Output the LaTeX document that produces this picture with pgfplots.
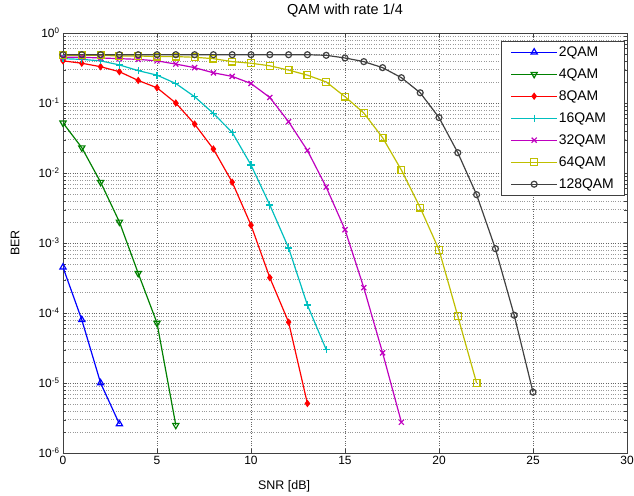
\documentclass[border=0pt]{standalone}
\usepackage{fontspec}
\setmainfont{Liberation Sans}
\usepackage{pgfplots}
\pgfplotsset{compat=1.18}

\definecolor{mblue}{rgb}{0,0,1}
\definecolor{mgreen}{rgb}{0,0.5,0}
\definecolor{mred}{rgb}{1,0,0}
\definecolor{mcyan}{rgb}{0,0.75,0.75}
\definecolor{mmagenta}{rgb}{0.75,0,0.75}
\definecolor{myellow}{rgb}{0.75,0.75,0}
\definecolor{mgray}{rgb}{0.25,0.25,0.25}

\begin{document}
\begin{tikzpicture}
\begin{axis}[
  scale only axis, width=564bp, height=420bp,
  xmin=0, xmax=30, ymode=log, ymin=1e-6, ymax=1,
  xtick={0,5,...,30},
  ytick={1e-6,1e-5,1e-4,1e-3,1e-2,1e-1,1},
  yticklabels={10\textsuperscript{-6},10\textsuperscript{-5},10\textsuperscript{-4},10\textsuperscript{-3},10\textsuperscript{-2},10\textsuperscript{-1},10\textsuperscript{0}},
  /pgf/number format/assume math mode=true,
  tick label style={font=\fontsize{12}{14}\selectfont},
  label style={font=\fontsize{12.5}{15}\selectfont},
  tick align=inside,
  grid=both,
  major grid style={dotted, black!60, line width=0.5pt},
  minor grid style={dotted, black!40, line width=0.5pt},
  axis line style={black!75, line width=0.6pt},
  tick style={black!75},
  title={QAM with rate 1/4},
  title style={font=\fontsize{14.5}{17}\selectfont, at={(0.5,1)}, anchor=base, yshift=13bp},
  xlabel={SNR [dB]},
  xlabel style={at={(axis description cs:0.392,0)}, anchor=base, yshift=-36bp},
  ylabel={BER},
  ylabel style={at={(axis description cs:-0.085,0.5)}, anchor=center},
  legend style={at={(1,1)}, anchor=north east, xshift=-3bp, yshift=-8bp,
    draw=black!75, fill=white, font=\fontsize{14}{16}\selectfont,
    nodes={inner sep=1bp, text height=10bp, text depth=2bp},
    row sep=8bp, inner xsep=9bp, inner ysep=4bp},
  legend cell align=left,
  legend image code/.code={%
    \draw[mark repeat=2, mark phase=2, #1]
      plot coordinates {(0bp,0bp) (23bp,0bp) (46bp,0bp)};},
  every axis plot/.append style={line width=1.2pt},
]
\addplot[mblue, mark=triangle, mark size=3.6pt, mark options={solid}]
  coordinates {(0,4.5e-4) (1,8e-5) (2,1e-5) (3,2.6e-6)};
\addlegendentry{2QAM}
\addplot[mgreen, mark=triangle, mark size=3.6pt, mark options={solid, rotate=180}]
  coordinates {(0,5.2e-2) (1,2.3e-2) (2,7.4e-3) (3,2.0e-3) (4,3.7e-4) (5,7.2e-5) (6,2.5e-6)};
\addlegendentry{4QAM}
\addplot[mred, mark=diamond*, mark size=2.8pt, mark options={solid}]
  coordinates {(0,0.40) (1,0.37) (2,0.33) (3,0.28) (4,0.21) (5,0.165) (6,0.10)
    (7,0.050) (8,0.022) (9,7.4e-3) (10,1.8e-3) (11,3.2e-4) (12,7.4e-5) (13,5.1e-6)};
\addlegendentry{8QAM}
\addplot[mcyan, mark=+, mark size=3.6pt, mark options={solid}]
  coordinates {(0,0.43) (1,0.42) (2,0.40) (3,0.35) (4,0.29) (5,0.25) (6,0.19)
    (7,0.123) (8,0.071) (9,0.038) (10,0.013) (11,3.5e-3) (12,8.5e-4) (13,1.3e-4) (14,3.0e-5)};
\addlegendentry{16QAM}
\addplot[mmagenta, mark=x, mark size=3.6pt, mark options={solid}]
  coordinates {(0,0.45) (1,0.45) (2,0.44) (3,0.43) (4,0.42) (5,0.40) (6,0.36)
    (7,0.32) (8,0.27) (9,0.24) (10,0.19) (11,0.12) (12,0.054) (13,0.021)
    (14,6.3e-3) (15,1.55e-3) (16,2.3e-4) (17,2.7e-5) (18,2.75e-6)};
\addlegendentry{32QAM}
\addplot[myellow, mark=square, mark size=3.4pt, mark options={solid}]
  coordinates {(0,0.48) (1,0.48) (2,0.48) (3,0.47) (4,0.47) (5,0.46) (6,0.46)
    (7,0.45) (8,0.43) (9,0.39) (10,0.37) (11,0.34) (12,0.295) (13,0.25)
    (14,0.20) (15,0.123) (16,0.072) (17,0.032) (18,0.011) (19,3.2e-3)
    (20,8e-4) (21,9e-5) (22,1.0e-5)};
\addlegendentry{64QAM}
\addplot[mgray, mark=o, mark size=3pt, mark options={solid}]
  coordinates {(0,0.49) (1,0.49) (2,0.49) (3,0.49) (4,0.49) (5,0.49) (6,0.49)
    (7,0.49) (8,0.49) (9,0.49) (10,0.49) (11,0.49) (12,0.49) (13,0.49)
    (14,0.48) (15,0.44) (16,0.39) (17,0.32) (18,0.23) (19,0.14) (20,0.062)
    (21,0.0195) (22,4.9e-3) (23,8.3e-4) (24,9.3e-5) (25,7.4e-6)};
\addlegendentry{128QAM}
\end{axis}
\pgfresetboundingbox
\path ([shift={(-63bp,-43bp)}]current axis.south west)
  rectangle ([shift={(7bp,33bp)}]current axis.north east);
\end{tikzpicture}
\end{document}
